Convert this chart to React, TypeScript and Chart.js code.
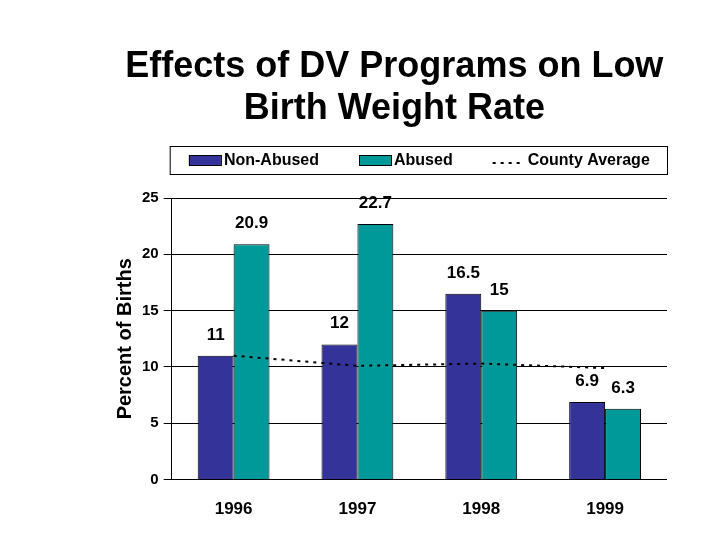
import React, { useEffect, useRef } from "react";
import { Chart, registerables } from "chart.js";

Chart.register(...registerables);

const categories = ["1996", "1997", "1998", "1999"];
const nonAbused = [11, 12, 16.5, 6.9];
const abused = [20.9, 22.7, 15, 6.3];
const countyAverage = [11.0, 10.1, 10.3, 9.9];
const titleLines = ["Effects of DV Programs on Low", "Birth Weight Rate"];
const yAxisTitle = "Percent of Births";
const seriesNames = ["Non-Abused", "Abused", "County Average"];

const FONT = '"Liberation Sans", Arial, sans-serif';
const NAVY = "#333399";
const TEAL = "#009999";

const decorPlugin = {
  id: "decor",
  afterDraw(chart: any) {
    const { ctx, chartArea } = chart;
    const cx = (chartArea.left + chartArea.right) / 2;
    ctx.save();
    // title
    ctx.fillStyle = "#000";
    ctx.font = `bold 36px ${FONT}`;
    ctx.textAlign = "center";
    ctx.textBaseline = "middle";
    ctx.fillText(titleLines[0], cx - 25, chartArea.top - 131);
    ctx.fillText(titleLines[1], cx - 25, chartArea.top - 89);
    // legend box
    const lTop = chartArea.top - 52;
    const lH = 28;
    ctx.strokeStyle = "#000";
    ctx.lineWidth = 1;
    ctx.strokeRect(chartArea.left - 2 + 0.5, lTop + 0.5, chartArea.right - chartArea.left + 2, lH);
    ctx.font = `bold 16px ${FONT}`;
    ctx.textAlign = "left";
    const sw = 32;
    const gap = 40;
    const widths = seriesNames.map((n) => sw + 3 + ctx.measureText(n).width);
    const total = widths.reduce((a, b) => a + b, 0) + gap * 2;
    let x = cx - total / 2;
    const my = lTop + lH / 2;
    const colors = [NAVY, TEAL];
    seriesNames.forEach((n, i) => {
      if (i < 2) {
        ctx.fillStyle = colors[i];
        ctx.fillRect(x, my - 5, sw, 10);
        ctx.strokeStyle = "#000";
        ctx.strokeRect(x + 0.5, my - 5 + 0.5, sw, 10);
      } else {
        ctx.strokeStyle = "#000";
        ctx.lineWidth = 2;
        ctx.setLineDash([3, 5]);
        ctx.beginPath();
        ctx.moveTo(x, my + 3);
        ctx.lineTo(x + sw, my + 3);
        ctx.stroke();
        ctx.setLineDash([]);
        ctx.lineWidth = 1;
      }
      ctx.fillStyle = "#000";
      ctx.fillText(n, x + sw + 3, my + 1);
      x += widths[i] + gap;
    });
    ctx.restore();
  },
  afterDatasetsDraw(chart: any) {
    const { ctx } = chart;
    ctx.save();
    ctx.fillStyle = "#000";
    ctx.font = `bold 17px ${FONT}`;
    ctx.textAlign = "center";
    ctx.textBaseline = "alphabetic";
    chart.data.datasets.forEach((ds: any, di: number) => {
      if (ds.type !== "bar") return;
      const meta = chart.getDatasetMeta(di);
      meta.data.forEach((el: any, i: number) => {
        ctx.fillText(String(ds.data[i]), el.x, el.y - 16);
      });
    });
    ctx.restore();
  },
};

export default function App() {
  const ref = useRef<HTMLCanvasElement | null>(null);
  useEffect(() => {
    if (!ref.current) return;
    const chart = new Chart(ref.current, {
      type: "bar",
      data: {
        labels: categories,
        datasets: [
          {
            type: "line",
            label: seriesNames[2],
            data: countyAverage,
            borderColor: "#000",
            borderWidth: 2,
            borderDash: [3, 5],
            pointRadius: 0,
            fill: false,
            tension: 0,
            order: 0,
          } as any,
          {
            type: "bar",
            label: seriesNames[0],
            data: nonAbused,
            backgroundColor: NAVY,
            borderColor: "#000",
            borderWidth: 1,
            categoryPercentage: 0.58,
            barPercentage: 1,
            order: 1,
          },
          {
            type: "bar",
            label: seriesNames[1],
            data: abused,
            backgroundColor: TEAL,
            borderColor: "#000",
            borderWidth: 1,
            categoryPercentage: 0.58,
            barPercentage: 1,
            order: 1,
          },
        ],
      },
      options: {
        animation: false,
        responsive: true,
        maintainAspectRatio: false,
        layout: { padding: { left: 113, right: 53, top: 198, bottom: 0 } },
        plugins: {
          legend: { display: false },
          title: { display: false },
          tooltip: { enabled: false },
        },
        scales: {
          x: {
            grid: { display: false, drawTicks: false },
            border: { display: false },
            ticks: {
              color: "#000",
              font: { family: FONT, weight: "bold", size: 17 },
              padding: 20,
            },
          },
          y: {
            min: 0,
            max: 25,
            ticks: {
              stepSize: 5,
              color: "#000",
              font: { family: FONT, weight: "bold", size: 15 },
              padding: 5,
            },
            grid: { color: "#000", lineWidth: 1, tickLength: 8, tickColor: "#000" },
            border: { display: true, color: "#000", width: 1 },
            title: {
              display: true,
              text: yAxisTitle,
              color: "#000",
              font: { family: FONT, weight: "bold", size: 20 },
              padding: 0,
            },
          },
        },
      },
      plugins: [decorPlugin],
    });
    return () => chart.destroy();
  }, []);
  return (
    <div style={{ position: "fixed", left: 0, top: 0, width: 720, height: 540, background: "#fff" }}>
      <canvas ref={ref} />
    </div>
  );
}
